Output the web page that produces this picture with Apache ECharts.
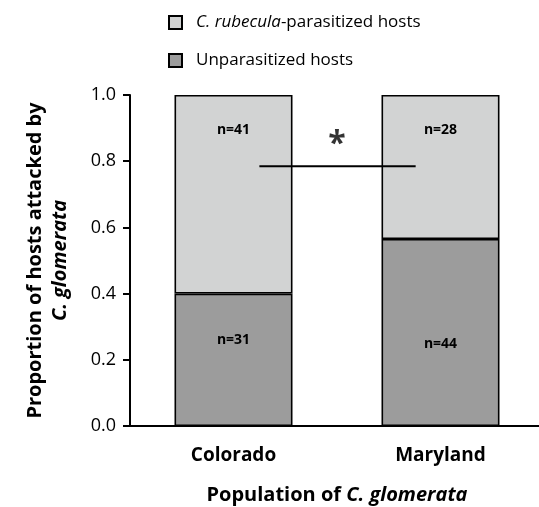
<!DOCTYPE html>
<html lang="en">
<head>
    <meta charset="utf-8">
    <title>ECharts</title>
    <script src="https://cdn.jsdelivr.net/npm/echarts@6/dist/echarts.min.js"></script>
    <style>
        html, body { margin: 0; padding: 0; background: #fff; }
    </style>
</head>
<body>
<div id="main" style="width:539px;height:507px;"></div>
<script type="text/javascript">
    // data
    var populations = ['Colorado', 'Maryland'];
    var unparasitized = [0.40, 0.565];
    var parasitized = [0.60, 0.435];
    var nUnpar = [31, 44];
    var nPar = [41, 28];
    // significance bar (on a hidden 0..2 value axis, categories sit at 0.5 and 1.5)
    var sigLine = [[0.625, 0.785], [1.38, 0.785]];
    var sigStar = [[1.0, 0.85]];

    var font = '"Open Sans", sans-serif';

    var myChart = echarts.init(document.getElementById('main'));
    myChart.setOption({
        backgroundColor: '#ffffff',
        animation: false,
        textStyle: { fontFamily: font },
        legend: {
            orient: 'vertical',
            left: 168,
            top: 14,
            padding: 0,
            itemWidth: 13,
            itemHeight: 13,
            itemGap: 21,
            icon: 'rect',
            data: ['par', 'unpar'],
            formatter: function (name) {
                return name === 'par' ? '{i|C. rubecula}-parasitized hosts' : 'Unparasitized hosts';
            },
            textStyle: {
                fontSize: 17,
                color: '#000',
                padding: [0, 0, 0, 9],
                rich: { i: { fontStyle: 'italic', fontSize: 17, color: '#000' } }
            }
        },
        grid: { left: 130, top: 95, width: 414, height: 331, outerBoundsMode: 'none' },
        xAxis: [{
            type: 'category',
            data: populations,
            axisLine: { lineStyle: { color: '#000', width: 2 } },
            axisTick: { show: false },
            axisLabel: { color: '#000', fontSize: 19, fontWeight: 'bold', margin: 20 },
            name: '{b|Population of }{bi|C. glomerata}',
            nameLocation: 'middle',
            nameGap: 59,
            nameTextStyle: {
                rich: {
                    b: { fontSize: 20, fontWeight: 'bold', color: '#000' },
                    bi: { fontSize: 20, fontWeight: 'bold', fontStyle: 'italic', color: '#000' }
                }
            }
        }, {
            type: 'value',
            min: 0,
            max: 2,
            show: false
        }],
        yAxis: {
            type: 'value',
            min: 0,
            max: 1,
            interval: 0.2,
            splitLine: { show: false },
            axisLine: { show: true, lineStyle: { color: '#000', width: 2 } },
            axisTick: { show: true, length: 7, lineStyle: { color: '#000', width: 2 } },
            axisLabel: {
                color: '#000', fontSize: 18, margin: 14,
                formatter: function (v) { return v.toFixed(1); }
            },
            name: '{b|Proportion of hosts attacked by}\n{bi|C. glomerata}',
            nameLocation: 'middle',
            nameRotate: 90,
            nameGap: 57,
            nameTextStyle: {
                align: 'center',
                rich: {
                    b: { fontSize: 20, fontWeight: 'bold', color: '#000', lineHeight: 25 },
                    bi: { fontSize: 20, fontWeight: 'bold', fontStyle: 'italic', color: '#000', lineHeight: 25 }
                }
            }
        },
        series: [
            {
                name: 'unpar',
                type: 'bar',
                stack: 'all',
                barWidth: 118,
                itemStyle: { color: '#9c9c9c', borderColor: '#000', borderWidth: 1.6 },
                label: {
                    show: true,
                    position: 'inside',
                    fontSize: 14,
                    fontWeight: 'bold',
                    color: '#000',
                    formatter: function (p) { return 'n=' + nUnpar[p.dataIndex]; }
                },
                data: [
                    { value: unparasitized[0], label: { offset: [0, -20] } },
                    { value: unparasitized[1], label: { offset: [0, 12] } }
                ]
            },
            {
                name: 'par',
                type: 'bar',
                stack: 'all',
                barWidth: 118,
                itemStyle: { color: '#d2d3d3', borderColor: '#000', borderWidth: 1.6 },
                label: {
                    show: true,
                    position: 'insideTop',
                    distance: 28,
                    fontSize: 14,
                    fontWeight: 'bold',
                    color: '#000',
                    formatter: function (p) { return 'n=' + nPar[p.dataIndex]; }
                },
                data: parasitized
            },
            {
                type: 'line',
                xAxisIndex: 1,
                symbol: 'none',
                lineStyle: { color: '#000', width: 2 },
                data: sigLine,
                z: 5
            },
            {
                type: 'scatter',
                xAxisIndex: 1,
                symbolSize: 0,
                label: {
                    show: true,
                    position: 'inside',
                    formatter: '*',
                    fontSize: 32,
                    fontWeight: 'bold',
                    color: '#000',
                    fontFamily: font
                },
                data: sigStar
            }
        ]
    });
</script>
</body>
</html>
